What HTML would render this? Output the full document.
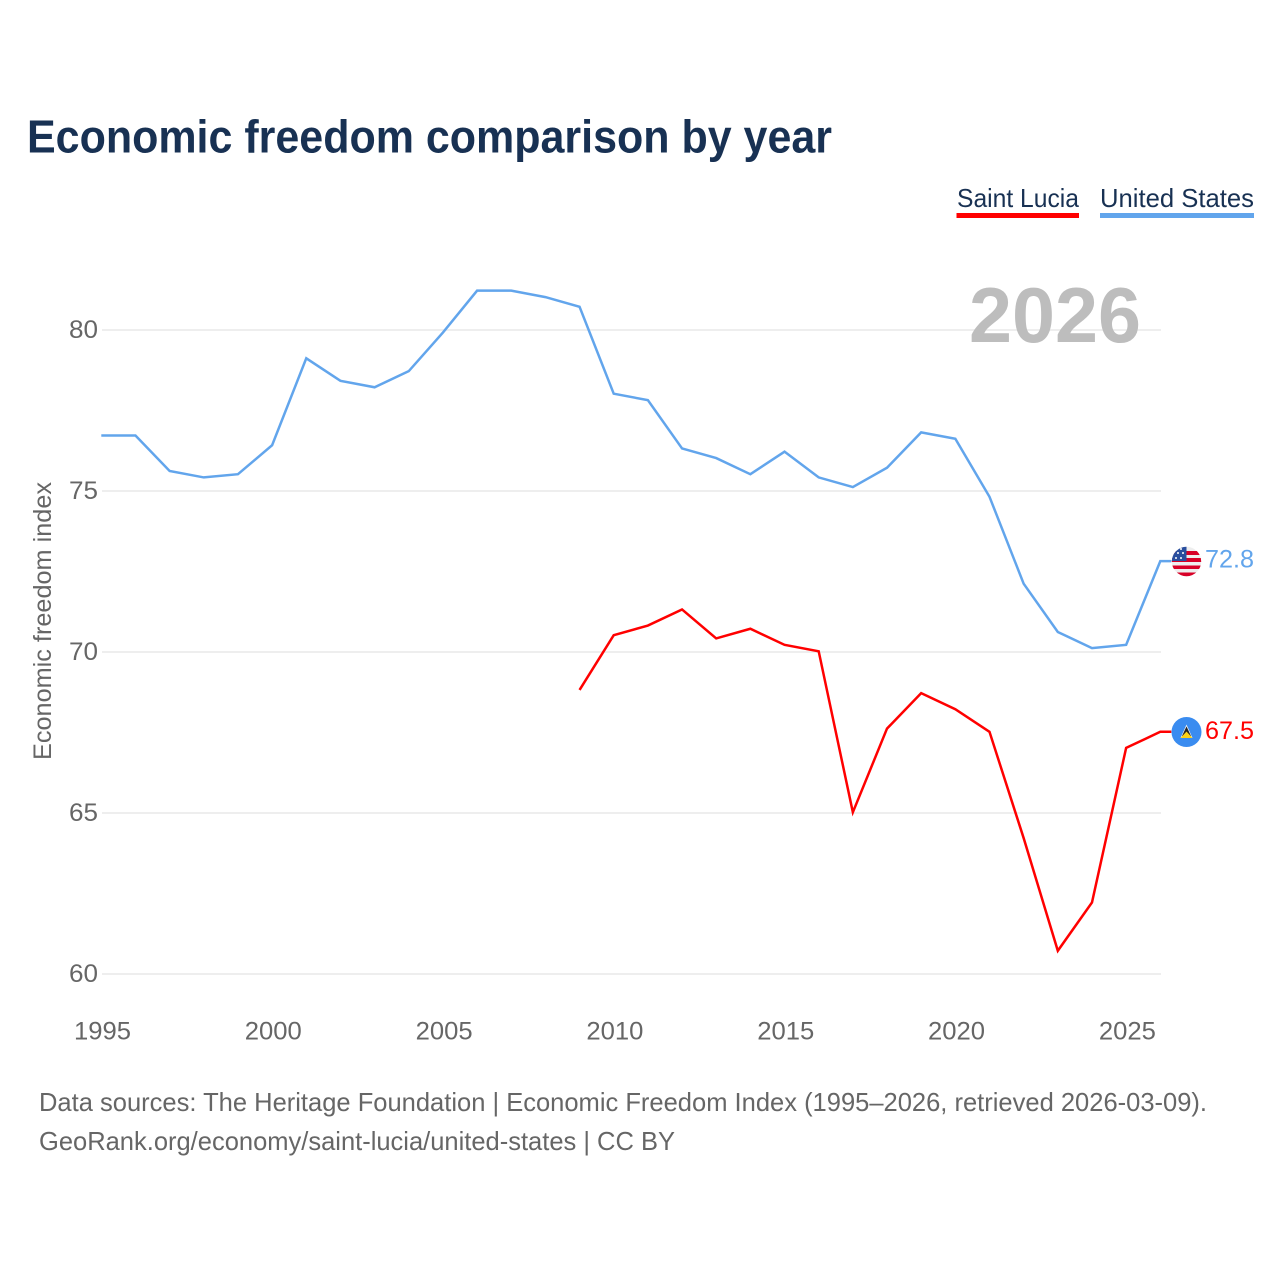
<!DOCTYPE html>
<html>
<head>
<meta charset="utf-8">
<title>Economic freedom comparison by year</title>
<style>
html,body{margin:0;padding:0;background:#fff}
svg{display:block}
text{font-family:"Liberation Sans",sans-serif}
</style>
</head>
<body>
<svg id="chart" xmlns="http://www.w3.org/2000/svg" width="1280" height="1280" viewBox="0 0 1280 1280">
  <rect width="1280" height="1280" fill="#fff"/>
  <text x="27" y="152.500" font-size="46" font-weight="700" fill="#183153" textLength="805" lengthAdjust="spacingAndGlyphs">Economic freedom comparison by year</text>

  <g>
    <text x="957" y="207" font-size="26" fill="#183153" textLength="122" lengthAdjust="spacingAndGlyphs">Saint Lucia</text>
    <rect x="956.500" y="213" width="122.500" height="5" fill="#ff0000"/>
  </g>
  <g>
    <text x="1100" y="207" font-size="26" fill="#183153" textLength="154" lengthAdjust="spacingAndGlyphs">United States</text>
    <rect x="1100" y="213" width="154" height="5" fill="#62a5ec"/>
  </g>

  <g id="grid"></g>
  <text x="969" y="342" font-size="78" font-weight="700" fill="#bdbdbd" textLength="172" lengthAdjust="spacingAndGlyphs">2026</text>
  <g id="yticks"></g>
  <g id="xticks"></g>
  <text transform="translate(51,760) rotate(-90)" font-size="25" fill="#666" textLength="278" lengthAdjust="spacingAndGlyphs">Economic freedom index</text>

  <g id="series" transform="translate(-0.7,-0.7)"></g>

  <g>
    <clipPath id="us-clip"><circle cx="1186.500" cy="561.500" r="14.700"/></clipPath>
    <g clip-path="url(#us-clip)">
      <rect x="1171" y="546" width="31" height="31" fill="#eeeeee"/>
      <rect x="1171" y="551" width="31" height="4" fill="#d80027"/>
      <rect x="1171" y="558" width="31" height="4" fill="#d80027"/>
      <rect x="1171" y="565.500" width="31" height="3.500" fill="#d80027"/>
      <rect x="1171" y="572.500" width="31" height="4" fill="#d80027"/>
      <rect x="1171" y="546" width="15.500" height="15" fill="#2a4f9e"/>
      <circle cx="1176" cy="558" r="1" fill="#fff"/>
      <circle cx="1181" cy="558" r="1" fill="#fff"/>
      <circle cx="1178" cy="553" r="1" fill="#fff"/>
      <circle cx="1183" cy="553" r="1" fill="#fff"/>
      <circle cx="1181" cy="549" r="1" fill="#fff"/>
    </g>
  </g>
  <g>
    <circle cx="1186.500" cy="732" r="15" fill="#3a8cf0"/>
    <polygon points="1186.500,724.500 1192.500,738 1180.500,738" fill="#f2f2f2"/>
    <polygon points="1186.500,726.500 1191,736 1182,736" fill="#222"/>
    <polygon points="1186.500,731.500 1192.500,738 1180.500,738" fill="#fcd116"/>
  </g>

  <text x="1205" y="567.500" font-size="25" fill="#62a5ec" textLength="49" lengthAdjust="spacingAndGlyphs">72.8</text>
  <text x="1205" y="739" font-size="25" fill="#ff0000" textLength="49" lengthAdjust="spacingAndGlyphs">67.5</text>

  <text x="39" y="1111" font-size="26" fill="#666" textLength="1168" lengthAdjust="spacingAndGlyphs">Data sources: The Heritage Foundation | Economic Freedom Index (1995–2026, retrieved 2026-03-09).</text>
  <text x="39" y="1150" font-size="26" fill="#666" textLength="636" lengthAdjust="spacingAndGlyphs">GeoRank.org/economy/saint-lucia/united-states | CC BY</text>
</svg>
<script>
const usYears = [1995,1996,1997,1998,1999,2000,2001,2002,2003,2004,2005,2006,2007,2008,2009,2010,2011,2012,2013,2014,2015,2016,2017,2018,2019,2020,2021,2022,2023,2024,2025,2026];
const usValues = [76.7,76.7,75.6,75.4,75.5,76.4,79.1,78.4,78.2,78.7,79.9,81.2,81.2,81.0,80.7,78.0,77.8,76.3,76.0,75.5,76.2,75.4,75.1,75.7,76.8,76.6,74.8,72.1,70.6,70.1,70.2,72.8];
const lcYears = [2009,2010,2011,2012,2013,2014,2015,2016,2017,2018,2019,2020,2021,2022,2023,2024,2025,2026];
const lcValues = [68.8,70.5,70.8,71.3,70.4,70.7,70.2,70.0,65.0,67.6,68.7,68.2,67.5,64.2,60.7,62.2,67.0,67.5];
const yTickValues = [60,65,70,75,80];
const xTickValues = [1995,2000,2005,2010,2015,2020,2025];

const NS = 'http://www.w3.org/2000/svg';
const xScale = function (year) { return 102 + (year - 1995) * (1161 - 102) / (2026 - 1995); };
const yScale = function (value) { return 974 - (value - 60) * (974 - 330) / (80 - 60); };

function make(tag, parentId) {
  const el = document.createElementNS(NS, tag);
  document.getElementById(parentId).appendChild(el);
  return el;
}

yTickValues.forEach(function (v) {
  const line = make('line', 'grid');
  
  
  line.setAttribute('x1', xScale(1995));
  line.setAttribute('x2', xScale(2026));
  line.setAttribute('y1', yScale(v));
  line.setAttribute('y2', yScale(v));
  line.setAttribute('stroke', '#eeeeee');
  line.setAttribute('stroke-width', '2');

  const label = make('text', 'yticks');
  
  
  label.setAttribute('x', 69);
  label.setAttribute('y', yScale(v) + 8);
  label.setAttribute('font-size', '25');
  label.setAttribute('fill', '#666');
  label.setAttribute('textLength', '29');
  label.setAttribute('lengthAdjust', 'spacingAndGlyphs');
  label.textContent = v;
});

xTickValues.forEach(function (year) {
  const label = make('text', 'xticks');
  
  
  label.setAttribute('x', xScale(year) - 28);
  label.setAttribute('y', 1039.5);
  label.setAttribute('font-size', '25');
  label.setAttribute('fill', '#666');
  label.setAttribute('textLength', '57');
  label.setAttribute('lengthAdjust', 'spacingAndGlyphs');
  label.textContent = year;
});

function pathFor(years, values) {
  const pts = years.map(function (y, i) { return xScale(y).toFixed(2) + ',' + yScale(values[i]).toFixed(2); });
  const last = years.length - 1;
  pts.push('1172,' + yScale(values[last]).toFixed(2));
  return pts.join(' ');
}

const usLine = make('polyline', 'series');


usLine.setAttribute('points', pathFor(usYears, usValues));
usLine.setAttribute('fill', 'none');
usLine.setAttribute('stroke', '#62a5ec');
usLine.setAttribute('stroke-width', '2.500');

const lcLine = make('polyline', 'series');


lcLine.setAttribute('points', pathFor(lcYears, lcValues));
lcLine.setAttribute('fill', 'none');
lcLine.setAttribute('stroke', '#ff0000');
lcLine.setAttribute('stroke-width', '2.500');
</script>
</body>
</html>
